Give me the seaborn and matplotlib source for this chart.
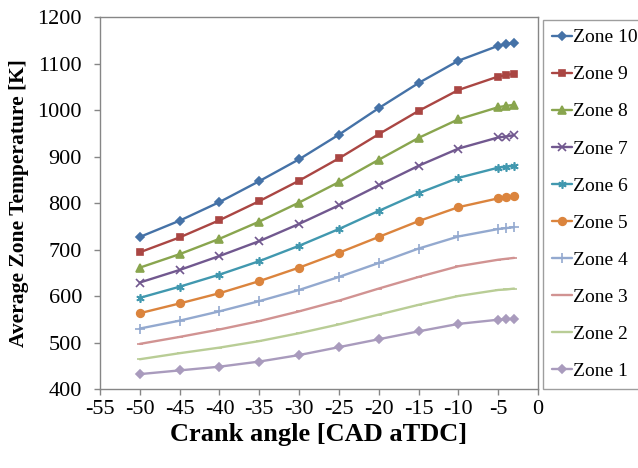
import matplotlib
matplotlib.use("Agg")
import matplotlib.pyplot as plt
import seaborn as sns
import pandas as pd

crank = [-50, -45, -40, -35, -30, -25, -20, -15, -10, -5, -4, -3]
zone10 = [727, 762, 802, 847, 894, 947, 1004, 1058, 1106, 1138, 1142, 1144]
zone9 = [694, 726, 763, 804, 848, 896, 948, 998, 1043, 1072, 1075, 1078]
zone8 = [661, 690, 723, 760, 801, 845, 893, 940, 980, 1006, 1009, 1011]
zone7 = [629, 656, 686, 718, 755, 795, 838, 880, 917, 941, 943, 946]
zone6 = [596, 620, 646, 675, 708, 744, 783, 821, 854, 876, 878, 880]
zone5 = [563, 584, 606, 632, 661, 693, 727, 761, 791, 810, 812, 814]
zone4 = [530, 547, 567, 589, 613, 641, 671, 702, 728, 744, 746, 748]
zone3 = [497, 512, 528, 546, 567, 590, 616, 641, 664, 678, 680, 682]
zone2 = [464, 477, 489, 503, 520, 539, 560, 581, 600, 613, 614, 616]
zone1 = [432, 440, 448, 459, 473, 490, 507, 524, 540, 549, 550, 551]

names = ["Zone 10", "Zone 9", "Zone 8", "Zone 7", "Zone 6",
         "Zone 5", "Zone 4", "Zone 3", "Zone 2", "Zone 1"]
series = [zone10, zone9, zone8, zone7, zone6, zone5, zone4, zone3, zone2, zone1]
colors = ["#4572A7", "#AA4643", "#89A54E", "#71588F", "#4198AF",
          "#DB843D", "#93A9CF", "#D19392", "#B9CD96", "#A99BBD"]
markers = ["D", "s", "^", "x", (6, 2, 0), "o", "+", "_", "_", "D"]
msizes = [4, 5, 5.5, 5.5, 6, 5.5, 6.5, 5, 5, 4]

sns.set_style("white")
plt.rcParams["font.family"] = ["Liberation Serif", "DejaVu Serif"]
plt.rcParams["axes.unicode_minus"] = False
plt.rcParams["text.color"] = "black"
plt.rcParams["axes.labelcolor"] = "black"
plt.rcParams["xtick.color"] = "black"
plt.rcParams["ytick.color"] = "black"

fig = plt.figure(figsize=(6.38, 4.68), dpi=100)
ax = fig.add_axes([100/638, 1-389/468, 438/638, 372/468])

rows = []
for n, s in zip(names, series):
    for x, y in zip(crank, s):
        rows.append({"crank": x, "temp": y, "zone": n})
df = pd.DataFrame(rows)

for n, c, m, ms in zip(names, colors, markers, msizes):
    sub = df[df["zone"] == n]
    sns.lineplot(data=sub, x="crank", y="temp", ax=ax, color=c, marker=m,
                 markersize=ms, markeredgecolor=c, markerfacecolor=c,
                 markeredgewidth=1.2, linewidth=1.7, label=n, legend=False)

ax.set_xlim(-55, 0)
ax.set_ylim(400, 1200)
ax.set_xticks(list(range(-55, 1, 5)))
ax.set_yticks(list(range(400, 1201, 100)))
ax.tick_params(axis="both", labelsize=16, direction="out", length=4,
               color="#868686", width=1, bottom=True, left=True,
               labelcolor="black")
ax.tick_params(axis="y", pad=9)
ax.tick_params(axis="x", pad=4)
for sp in ax.spines.values():
    sp.set_color("#868686")
    sp.set_linewidth(1)
ax.set_xlabel("Crank angle [CAD aTDC]", fontsize=19, fontweight="bold", labelpad=3)
ax.set_ylabel("Average Zone Temperature [K]", fontsize=15.5, fontweight="bold", labelpad=6)

handles, labels = ax.get_legend_handles_labels()
leg = fig.legend(handles, labels, loc="upper left",
                 bbox_to_anchor=(543/638, 1-20/468), frameon=True,
                 fancybox=False, fontsize=14, labelspacing=1.0,
                 handlelength=1.05, handletextpad=0.05, borderpad=0.45,
                 borderaxespad=0)
leg.get_frame().set_edgecolor("#868686")
leg.get_frame().set_linewidth(1)

fig.savefig("out.png", dpi=100)
